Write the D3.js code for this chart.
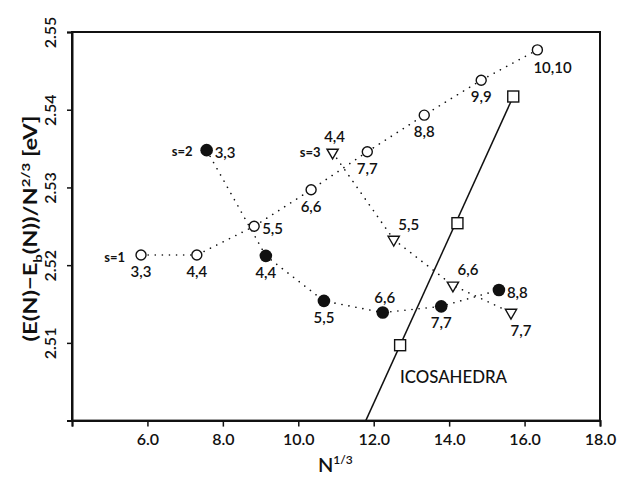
<!DOCTYPE html>
<html>
<head>
<meta charset="UTF-8">
<title>Cluster energies vs N^1/3</title>
<style>
    body { margin: 0; padding: 0; background: #fff; }
    svg { display: block; }
    text { font-family: 'Lato', 'DejaVu Sans', sans-serif; fill: #111; }
    .tick-label { font-size: 16px; font-weight: 600; }
    .pt-label { font-size: 15px; font-weight: 600; }
    .s-label { font-size: 13px; font-weight: 700; }
    .dotted { fill: none; stroke: #111; stroke-width: 1.6; stroke-dasharray: 0.1 7; stroke-linecap: round; }
</style>
</head>
<body>
<svg></svg>
<script src="https://d3js.org/d3.v7.min.js"></script>
<script>

// chart size
let w = 619, h = 477;
let margin = {left: 72, right: 19, top: 32, bottom: 56};

// s=1 series (open circles)
const s1X = [5.83, 7.31, 8.83, 10.34, 11.83, 13.34, 14.85, 16.34];
const s1Y = [2.5213, 2.5213, 2.5250, 2.5297, 2.5346, 2.5393, 2.5438, 2.5477];
const s1Labels = ["3,3", "4,4", "5,5", "6,6", "7,7", "8,8", "9,9", "10,10"];
const s1Place = ["b", "b", "r", "b", "b", "b", "b", "br"];

// s=2 series (filled circles)
const s2X = [7.57, 9.14, 10.68, 12.24, 13.79, 15.32];
const s2Y = [2.5348, 2.5212, 2.5154, 2.5139, 2.5147, 2.5168];
const s2Labels = ["3,3", "4,4", "5,5", "6,6", "7,7", "8,8"];
const s2Place = ["r", "b", "b", "a", "b", "r"];

// s=3 series (open triangles)
const s3X = [10.91, 12.53, 14.10, 15.64];
const s3Y = [2.5345, 2.5233, 2.5174, 2.5139];
const s3Labels = ["4,4", "5,5", "6,6", "7,7"];
const s3Place = ["a", "ar", "ar", "bR"];

// icosahedra (squares) and the straight line through them
const icoX = [12.70, 14.22, 15.70];
const icoY = [2.5097, 2.5254, 2.5417];
const icoLineX = [11.79, 15.70];
const icoLineY = [2.500, 2.5417];

// axis ticks
const xTicks = [4, 6, 8, 10, 12, 14, 16, 18];
const yTicks = [2.50, 2.51, 2.52, 2.53, 2.54, 2.55];

// label offsets by placement code
let offsets = {
    b:  {dx: 0,  dy: 22, anchor: "middle"},
    r:  {dx: 8,  dy: 8,  anchor: "start"},
    br: {dx: -4, dy: 23, anchor: "start"},
    a:  {dx: 2,  dy: -10, anchor: "middle"},
    ar: {dx: 15, dy: -10, anchor: "middle"},
    bR: {dx: 10, dy: 23, anchor: "middle"}
};

let svg = d3.select("svg").attr("width", w).attr("height", h);

let x = d3.scaleLinear().domain([4, 18]).range([margin.left, w - margin.right]);
let y = d3.scaleLinear().domain([2.50, 2.55]).range([h - margin.bottom - 0.4, margin.top]);

let zip = (xs, ys, labels, place) => xs.map((v, i) => ({x: v, y: ys[i], label: labels ? labels[i] : null, place: place ? place[i] : null}));
let s1 = zip(s1X, s1Y, s1Labels, s1Place);
let s2 = zip(s2X, s2Y, s2Labels, s2Place);
let s3 = zip(s3X, s3Y, s3Labels, s3Place);
let ico = zip(icoX, icoY);
let icoLine = zip(icoLineX, icoLineY);

// frame
svg.append("rect")
    .attr("x", x(4)).attr("y", y(2.55))
    .attr("width", x(18) - x(4)).attr("height", y(2.50) - y(2.55))
    .attr("fill", "none").attr("stroke", "#111").attr("stroke-width", 2);

// x axis
let xAxis = svg.append("g")
    .attr("transform", `translate(0,${y(2.50)})`)
    .call(d3.axisBottom(x).tickValues(xTicks).tickSize(6).tickFormat(d => d === 4 ? "" : d3.format(".1f")(d)));
xAxis.select(".domain").attr("stroke-width", 2).attr("stroke", "#111");
xAxis.selectAll(".tick line").attr("stroke-width", 1.5).attr("stroke", "#111");
xAxis.selectAll(".tick text").attr("class", "tick-label").attr("y", 13).attr("dy", "0.71em").attr("fill", "#111");

// y axis, labels turned to read upward
let yAxis = svg.append("g")
    .attr("transform", `translate(${x(4)},0)`)
    .call(d3.axisLeft(y).tickValues(yTicks).tickSize(5).tickFormat(d => d === 2.50 ? "" : d3.format(".2f")(d)));
yAxis.select(".domain").attr("stroke-width", 2).attr("stroke", "#111");
yAxis.selectAll(".tick line").attr("stroke-width", 1.5).attr("stroke", "#111");
yAxis.selectAll(".tick text")
    .attr("class", "tick-label")
    .attr("x", null).attr("dy", null)
    .attr("text-anchor", "middle")
    .attr("transform", "translate(-16,0) rotate(-90)")
    .attr("fill", "#111");

// axis titles
let yTitle = svg.append("text")
    .attr("transform", `translate(37,${(115 + 342) / 2}) rotate(-90)`)
    .attr("text-anchor", "middle")
    .style("font-size", "19px").style("font-weight", 700)
    .attr("textLength", 226).attr("lengthAdjust", "spacingAndGlyphs");
yTitle.append("tspan").text("(E(N)\u2212E");
yTitle.append("tspan").attr("dy", 5).style("font-size", "12px").text("b");
yTitle.append("tspan").attr("dy", -5).text("(N))/N");
yTitle.append("tspan").attr("dy", -7).style("font-size", "12px").text("2/3");
yTitle.append("tspan").attr("dy", 7).text("  [eV]");

let xTitle = svg.append("text")
    .attr("x", 318).attr("y", 472)
    .style("font-size", "20px").style("font-weight", 600);
xTitle.append("tspan").text("N");
xTitle.append("tspan").attr("dy", -8).style("font-size", "12px").text("1/3");

// connecting lines
let line = d3.line().x(d => x(d.x)).y(d => y(d.y));
[s1, s2, s3].forEach(s => {
    svg.append("path").attr("class", "dotted").attr("d", line(s));
});
svg.append("path")
    .attr("d", line(icoLine))
    .attr("fill", "none").attr("stroke", "#111").attr("stroke-width", 1.5);

// markers
svg.append("g").selectAll("circle").data(s1).enter().append("circle")
    .attr("cx", d => x(d.x)).attr("cy", d => y(d.y)).attr("r", 5)
    .attr("fill", "#fff").attr("stroke", "#111").attr("stroke-width", 1.4);

svg.append("g").selectAll("circle").data(s2).enter().append("circle")
    .attr("cx", d => x(d.x)).attr("cy", d => y(d.y)).attr("r", 6.3)
    .attr("fill", "#111");

let tri = d3.symbol().type(d3.symbolTriangle).size(55);
svg.append("g").selectAll("path").data(s3).enter().append("path")
    .attr("d", tri)
    .attr("transform", d => `translate(${x(d.x)},${y(d.y)}) rotate(180)`)
    .attr("fill", "#fff").attr("stroke", "#111").attr("stroke-width", 1.4);

svg.append("g").selectAll("rect").data(ico).enter().append("rect")
    .attr("x", d => x(d.x) - 5.5).attr("y", d => y(d.y) - 5.5)
    .attr("width", 11).attr("height", 11)
    .attr("fill", "#fff").attr("stroke", "#111").attr("stroke-width", 1.4);

// point labels
[s1, s2, s3].forEach(s => {
    svg.append("g").selectAll("text").data(s).enter().append("text")
        .attr("class", "pt-label")
        .attr("x", d => x(d.x) + offsets[d.place].dx)
        .attr("y", d => y(d.y) + offsets[d.place].dy)
        .attr("text-anchor", d => offsets[d.place].anchor)
        .text(d => d.label);
});

// series names next to their first point
[[s1, "s=1", 16, 7], [s2, "s=2", 14, 6], [s3, "s=3", 12, 5]].forEach(([s, name, gap, dy]) => {
    svg.append("text")
        .attr("class", "s-label")
        .attr("x", x(s[0].x) - gap)
        .attr("y", y(s[0].y) + dy)
        .attr("text-anchor", "end")
        .text(name);
});

svg.append("text")
    .attr("x", 400).attr("y", 383)
    .style("font-size", "18px").style("font-weight", 500)
    .attr("textLength", 107).attr("lengthAdjust", "spacingAndGlyphs")
    .text("ICOSAHEDRA");

</script>
</body>
</html>
